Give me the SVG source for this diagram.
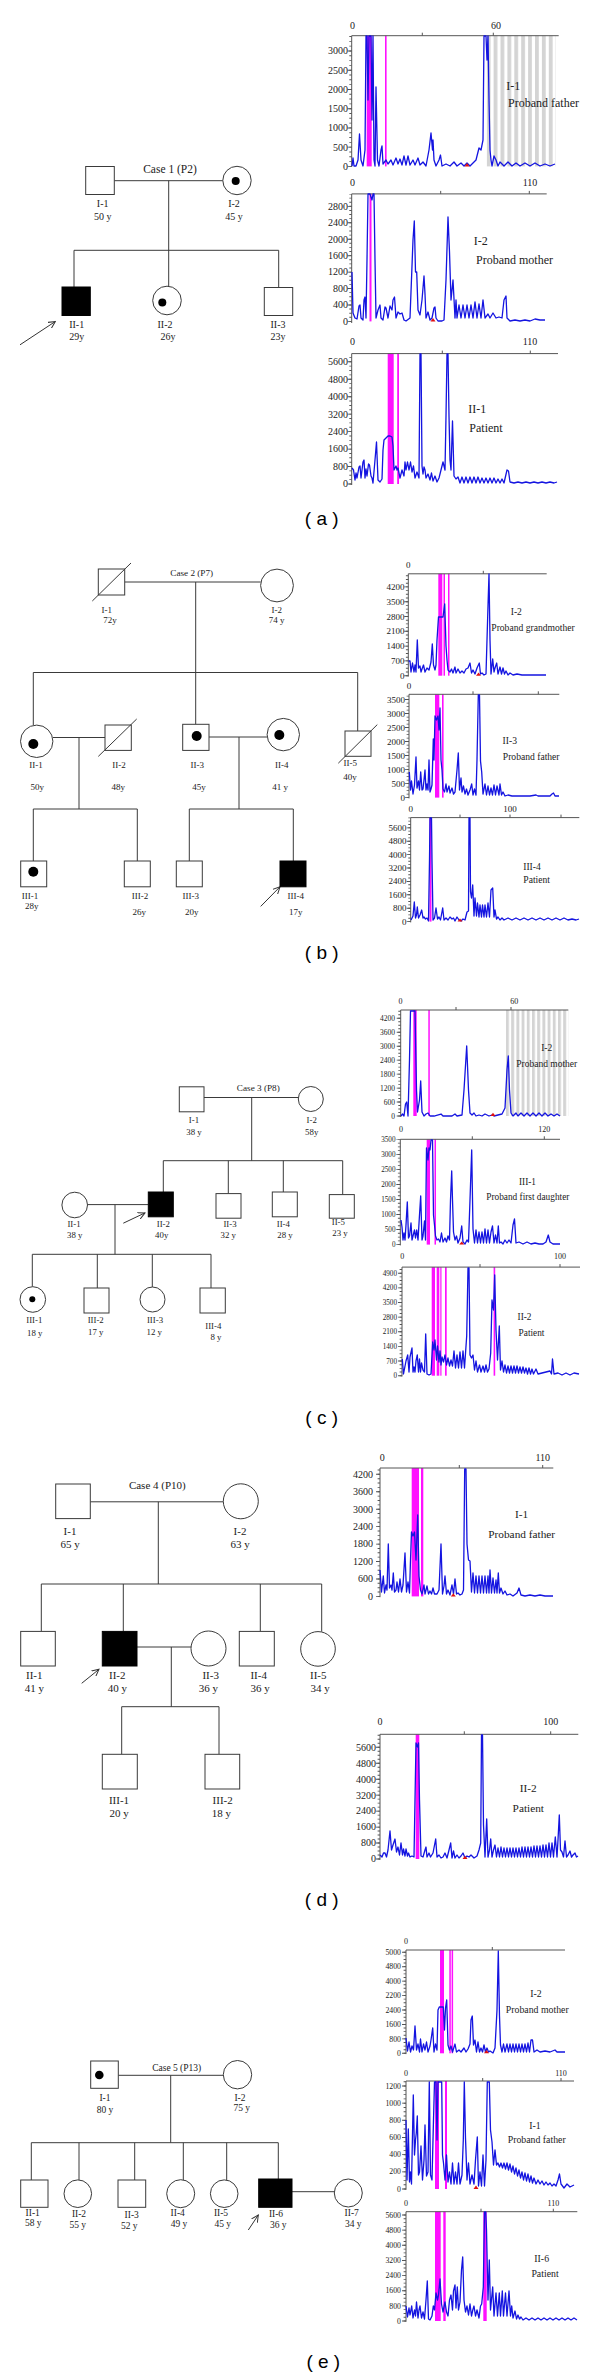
<svg xmlns="http://www.w3.org/2000/svg" width="600" height="2377" viewBox="0 0 600 2377">
<style>
.ln{stroke:#3a3a3a;stroke-width:1;fill:none}
.sym{stroke:#3a3a3a;stroke-width:1;fill:#fff}
.aff{fill:#000;stroke:#000;stroke-width:1}
.dot{fill:#000}
.t{font-family:"Liberation Serif",serif;fill:#222;text-anchor:middle}
.yl{font-family:"Liberation Serif",serif;fill:#222;text-anchor:end}
.ax{stroke:#555;stroke-width:1;fill:none}
.tr{stroke:#1414e0;stroke-width:1.3;fill:none;stroke-linejoin:round}
.mg{fill:#ff10ff}
.red{fill:#e01010}
.pl{font-family:"Liberation Sans",Arial,sans-serif;font-size:19px;fill:#000;text-anchor:middle}
.arrow{stroke:#333;stroke-width:1;fill:none;marker-end:url(#arr)}
</style>
<defs>
<marker id="arr" markerWidth="8" markerHeight="8" refX="7" refY="4" orient="auto" markerUnits="userSpaceOnUse"><path d="M0,0.5 L7,4 L0,7.5" fill="none" stroke="#333" stroke-width="1"/></marker>
<pattern id="gs1" patternUnits="userSpaceOnUse" x="486.7" y="0" width="6.9" height="10"><rect width="3.8" height="10" fill="#d4d4d4"/></pattern>
<pattern id="gs2" patternUnits="userSpaceOnUse" x="506" y="0" width="5.2" height="10"><rect width="2.9" height="10" fill="#d4d4d4"/></pattern>
</defs>
<rect width="600" height="2377" fill="#fff"/>

<!-- ===================== PANEL A ===================== -->
<g id="panel-a">
<g id="a-connectors">
<line class="ln" x1="114.3" y1="180.7" x2="222.9" y2="180.7"/>
<line class="ln" x1="168.7" y1="180.7" x2="168.7" y2="286.2"/>
<line class="ln" x1="74" y1="250.3" x2="278.7" y2="250.3"/>
<line class="ln" x1="74" y1="250.3" x2="74" y2="287"/>
<line class="ln" x1="278.7" y1="250.3" x2="278.7" y2="287.5"/>
<line class="arrow" x1="20" y1="344.8" x2="55.3" y2="321.5"/>
</g>
<text class="t" x="170" y="172.8" font-size="11.5">Case 1 (P2)</text>
<g id="a-I-1"><rect class="sym" x="85.7" y="166.5" width="28.6" height="28"/><text class="t" x="102.7" y="207.2" font-size="10">I-1</text><text class="t" x="102.7" y="219.5" font-size="10">50 y</text></g>
<g id="a-I-2"><circle class="sym" cx="237" cy="180.5" r="14.2"/><circle class="dot" cx="235.7" cy="181" r="4"/><text class="t" x="234" y="207.2" font-size="10">I-2</text><text class="t" x="234" y="219.5" font-size="10">45 y</text></g>
<g id="a-II-1"><rect class="aff" x="62" y="287" width="28.3" height="28.5"/><text class="t" x="76.7" y="328.2" font-size="10">II-1</text><text class="t" x="76.7" y="340" font-size="10">29y</text></g>
<g id="a-II-2"><circle class="sym" cx="167" cy="300.5" r="14.3"/><circle class="dot" cx="162.3" cy="302.5" r="4"/><text class="t" x="165" y="328.2" font-size="10">II-2</text><text class="t" x="168" y="340" font-size="10">26y</text></g>
<g id="a-II-3"><rect class="sym" x="264.3" y="287.5" width="28.4" height="28"/><text class="t" x="278" y="328.2" font-size="10">II-3</text><text class="t" x="278" y="340" font-size="10">23y</text></g>

<g id="chart-a1">
<rect x="486.7" y="35.7" width="69.3" height="130.7" fill="url(#gs1)"/>
<rect class="mg" x="366.7" y="35.7" width="5" height="130.7"/>
<rect class="mg" x="385" y="35.7" width="1.6" height="130.7"/>
<path class="ax" d="M351.7,35.7 H558.7 M351.7,35.7 V167 M422.3,35.7 v-3 M493.3,35.7 v-3"/>
<line x1="350.5" y1="166.85" x2="350.5" y2="35.7" stroke="#555" stroke-width="2.4" stroke-dasharray="0.9 3.91"/>
<line x1="349.7" y1="166.85" x2="349.7" y2="35.7" stroke="#555" stroke-width="4" stroke-dasharray="0.9 18.33"/>
<g class="yl" font-size="10"><text x="348" y="169.7">0</text><text x="348" y="150.5">500</text><text x="348" y="131.3">1000</text><text x="348" y="112">1500</text><text x="348" y="92.8">2000</text><text x="348" y="73.6">2500</text><text x="348" y="54.3">3000</text></g>
<text class="t" x="352.5" y="29.3" font-size="10">0</text><text class="t" x="496" y="29.3" font-size="10">60</text>
<path class="tr" d="M352,166 L353,158 L354,166 L356,166 L358,160 L359.5,134 L361,160 L363,166 L365,150 L366,36 L367,36 L368,100 L369,36 L371,36 L372,120 L373,36 L374,160 L375,166 L376,87 L377.5,160 L379,166 L381,150 L382,146 L383,164 L386,160 L388,164 L391,160 L393,165 L396,158 L398,164 L400,159 L402,165 L404,156 L406,165 L408,156 L410,165 L413,160 L415,165 L418,158 L420,165 L423,162 L426,166 L429,150 L431,133 L432.5,150 L433,140 L434,160 L436,166 L439,160 L440.5,155 L442,166 L446,164 L450,166 L454,162 L457,166 L461,163 L464,166 L467,163 L470,166 L476,160 L479,148 L481,150 L483,140 L484,36 L486,36 L487,60 L488,36 L489,100 L490,150 L491,160 L492,166 L494,156 L496,160 L498,166 L500,162 L504,166 L508,162 L512,166 L516,163 L520,166 L525,163 L530,166 L535,163 L540,166 L545,164 L550,166 L555,164"/>
<path class="red" d="M464.5,166.4 L467,162.9 L469.5,166.4 Z"/>
<text class="t" x="513.3" y="90.4" font-size="12">I-1</text><text class="t" x="543.5" y="107" font-size="12">Proband father</text>
</g>

<g id="chart-a2">
<rect class="mg" x="369.5" y="193.9" width="2" height="127.5"/>
<path class="ax" d="M351.7,193.9 H546.7 M351.7,193.9 V323 M440.7,193.9 v-3 M529.3,193.9 v-3"/>
<line x1="350.5" y1="321.85" x2="350.5" y2="193.9" stroke="#555" stroke-width="2.4" stroke-dasharray="0.9 3.21"/>
<line x1="349.7" y1="321.85" x2="349.7" y2="193.9" stroke="#555" stroke-width="4" stroke-dasharray="0.9 15.53"/>
<g class="yl" font-size="10"><text x="348" y="324.7">0</text><text x="348" y="308.3">400</text><text x="348" y="291.8">800</text><text x="348" y="275.4">1200</text><text x="348" y="259">1600</text><text x="348" y="242.6">2000</text><text x="348" y="226.1">2400</text><text x="348" y="209.7">2800</text></g>
<text class="t" x="352.5" y="185.7" font-size="10">0</text><text class="t" x="530" y="185.7" font-size="10">110</text>
<path class="tr" d="M352,272 L353,313 L355,318 L357,319 L359,306 L360,305 L361,318 L363,320 L364,300 L365,297 L366,318 L367,260 L368,194 L370,194 L372,200 L373,194 L374,194 L375,260 L376,318 L378,310 L380,305 L381,318 L383,320 L385,307 L386,308 L388,318 L390,306 L392,310 L393,300 L394.5,297 L396,318 L398,312 L400,314 L402,313 L404,320 L406,321 L410,318 L413,240 L414.3,221 L415.5,272 L416.7,272 L418,310 L420,315 L422,300 L424,276 L425,294 L426,318 L428,312 L430,320 L432,318 L434,308 L435,307 L436,318 L438,321 L442,321 L444,320 L446,280 L448,217 L449.5,252 L451,300 L453,280 L455,318 L456,300 L457,318 L459,305 L461,318 L463,305 L465,318 L467,305 L469,318 L471,305 L473,318 L475,302 L477,318 L479,304 L481,318 L483,300 L485,318 L488,314 L490,318 L493,313 L496,318 L499,317 L502,318 L504,300 L506,296 L507,318 L510,321 L515,320 L520,321 L525,320 L530,321 L535,319 L540,320 L545,320"/>
<path class="red" d="M430.5,321.4 L433,317.9 L435.5,321.4 Z"/>
<text class="t" x="480.8" y="244.6" font-size="12">I-2</text><text class="t" x="514.5" y="264.3" font-size="12">Proband mother</text>
</g>

<g id="chart-a3">
<rect class="mg" x="387.7" y="353.6" width="6" height="130.4"/>
<rect class="mg" x="397.2" y="353.6" width="1.8" height="130.4"/>
<path class="ax" d="M351.7,353.6 H558 M351.7,353.6 V485 M442.3,353.6 v-3 M530.3,353.6 v-3"/>
<line x1="350.5" y1="484.45" x2="350.5" y2="353.6" stroke="#555" stroke-width="2.4" stroke-dasharray="0.9 3.465"/>
<line x1="349.7" y1="484.45" x2="349.7" y2="353.6" stroke="#555" stroke-width="4" stroke-dasharray="0.9 16.56"/>
<g class="yl" font-size="10"><text x="348" y="487.3">0</text><text x="348" y="469.8">800</text><text x="348" y="452.4">1600</text><text x="348" y="434.9">2400</text><text x="348" y="417.5">3200</text><text x="348" y="400">4000</text><text x="348" y="382.5">4800</text><text x="348" y="365.1">5600</text></g>
<text class="t" x="352.5" y="344.6" font-size="10">0</text><text class="t" x="530" y="344.6" font-size="10">110</text>
<path class="tr" d="M352,468 L353.5,470 L355,480 L356,473 L357,478 L359,467 L360,466 L361,478 L363,462 L364,460 L365,478 L366,469 L367,476 L368.5,464 L369.5,465 L371,476 L372,478 L373,483 L375,460 L376.5,442 L378,480 L380,482 L382,479 L383,450 L384,440 L386,438 L388,436 L390,436 L392,437 L393,446 L394,470 L396,466 L397,470 L398,468 L400,478 L402,470 L404,476 L405,462 L406,470 L407.5,462 L409,470 L410.5,462 L412,472 L413.5,466 L415,478 L417,472 L419,478 L420,354 L421,354 L422,466 L423,474 L424,467 L425,470 L426,478 L428,474 L430,480 L431.5,473 L433,481 L435,476 L437,482 L439,478 L441,470 L443,462 L445,470 L446,416 L447,354 L448,354 L449,416 L450,460 L451,470 L452.5,421 L454,476 L456,479 L458,477 L460,483 L462,477 L464,483 L466,477 L468,483 L470,477 L472,483 L474,477 L476,483 L478,477 L480,483 L482,478 L484,483 L486,478 L488,483 L490,478 L492,483 L494,478 L496,483 L498,479 L500,483 L502,479 L504,483 L507,470 L508.5,471 L510,482 L514,483 L518,482 L522,483 L526,482 L530,483 L534,482 L538,483 L542,482 L546,483 L550,482 L554,483 L557,482"/>
<text class="t" x="477.2" y="412.5" font-size="12">II-1</text><text class="t" x="486" y="432" font-size="12">Patient</text>
</g>
<text class="pl" x="321.7" y="525">( a )</text>
</g>

<!-- ===================== PANEL B ===================== -->
<g id="panel-b">
<g id="b-connectors">
<line class="ln" x1="124.7" y1="582" x2="260.7" y2="582"/>
<line class="ln" x1="195.7" y1="582" x2="195.7" y2="724.3"/>
<line class="ln" x1="33.3" y1="672.5" x2="357.7" y2="672.5"/>
<line class="ln" x1="33.3" y1="672.5" x2="33.3" y2="725"/>
<line class="ln" x1="52.9" y1="737.5" x2="105" y2="737.5"/>
<line class="ln" x1="79" y1="737.5" x2="79" y2="809"/>
<line class="ln" x1="33.3" y1="809" x2="137.3" y2="809"/>
<line class="ln" x1="209" y1="737" x2="267.1" y2="737"/>
<line class="ln" x1="239" y1="737" x2="239" y2="809"/>
<line class="ln" x1="189.3" y1="809" x2="293.3" y2="809"/>
<line class="ln" x1="357.7" y1="672.5" x2="357.7" y2="731"/>
<line class="ln" x1="33.3" y1="809" x2="33.3" y2="861"/>
<line class="ln" x1="137.3" y1="809" x2="137.3" y2="861"/>
<line class="ln" x1="189.3" y1="809" x2="189.3" y2="861"/>
<line class="ln" x1="293.3" y1="809" x2="293.3" y2="861"/>
<line class="arrow" x1="260.7" y1="906.4" x2="280" y2="886.8"/>
</g>
<text class="t" x="191.7" y="576" font-size="9.2">Case 2 (P7)</text>
<g id="b-I-1"><rect class="sym" x="98.3" y="569" width="26.4" height="26"/><line class="ln" x1="92.3" y1="601" x2="131" y2="563"/><text class="t" x="106.7" y="612.5" font-size="9">I-1</text><text class="t" x="110" y="623.2" font-size="9">72y</text></g>
<g id="b-I-2"><circle class="sym" cx="277" cy="585.5" r="16.4"/><text class="t" x="276.7" y="612.5" font-size="9">I-2</text><text class="t" x="276.7" y="623.2" font-size="9">74 y</text></g>
<g id="b-II-1"><circle class="sym" cx="36.7" cy="741.3" r="16.2"/><circle class="dot" cx="33.3" cy="744" r="5"/><text class="t" x="36" y="768.2" font-size="9">II-1</text><text class="t" x="37.3" y="789.6" font-size="9">50y</text></g>
<g id="b-II-2"><rect class="sym" x="105" y="725" width="26.3" height="25.4"/><line class="ln" x1="98.3" y1="756.4" x2="136.7" y2="719"/><text class="t" x="119" y="768.2" font-size="9">II-2</text><text class="t" x="118.3" y="789.6" font-size="9">48y</text></g>
<g id="b-II-3"><rect class="sym" x="182.7" y="724.3" width="26.3" height="26.1"/><circle class="dot" cx="196.7" cy="736" r="5"/><text class="t" x="197.3" y="768.2" font-size="9">II-3</text><text class="t" x="199" y="789.6" font-size="9">45y</text></g>
<g id="b-II-4"><circle class="sym" cx="283.3" cy="734.6" r="16.2"/><circle class="dot" cx="279.3" cy="735" r="5"/><text class="t" x="281.7" y="768.2" font-size="9">II-4</text><text class="t" x="280" y="789.6" font-size="9">41 y</text></g>
<g id="b-II-5"><rect class="sym" x="345" y="731" width="26" height="25.3"/><line class="ln" x1="338.3" y1="763.2" x2="377.3" y2="724.6"/><text class="t" x="350.3" y="766" font-size="9">II-5</text><text class="t" x="350" y="780.4" font-size="9">40y</text></g>
<g id="b-III-1"><rect class="sym" x="20.7" y="861" width="26" height="25.8"/><circle class="dot" cx="33.3" cy="871.8" r="5"/><text class="t" x="30" y="899.3" font-size="9">III-1</text><text class="t" x="31.7" y="909.3" font-size="9">28y</text></g>
<g id="b-III-2"><rect class="sym" x="124.3" y="861" width="26" height="25.8"/><text class="t" x="140" y="899.3" font-size="9">III-2</text><text class="t" x="139.3" y="914.6" font-size="9">26y</text></g>
<g id="b-III-3"><rect class="sym" x="176.3" y="861" width="26" height="25.8"/><text class="t" x="190.7" y="899.3" font-size="9">III-3</text><text class="t" x="191.7" y="914.6" font-size="9">20y</text></g>
<g id="b-III-4"><rect class="aff" x="280" y="861" width="26" height="25.8"/><text class="t" x="295.7" y="899.3" font-size="9">III-4</text><text class="t" x="295.7" y="914.6" font-size="9">17y</text></g>

<g id="chart-b1">
<rect class="mg" x="438.3" y="573.8" width="4" height="101.9"/>
<rect class="mg" x="443.5" y="573.8" width="1.5" height="101.9"/>
<rect class="mg" x="448" y="573.8" width="1.5" height="101.9"/>
<path class="ax" d="M408.3,573.8 H546.7 M408.3,573.8 V676.5 M483.3,573.8 v-3"/>
<line x1="407.1" y1="676.15" x2="407.1" y2="573.8" stroke="#555" stroke-width="2.4" stroke-dasharray="0.9 2.8"/>
<line x1="406.3" y1="676.15" x2="406.3" y2="573.8" stroke="#555" stroke-width="4" stroke-dasharray="0.9 13.9"/>
<g class="yl" font-size="9"><text x="404.5" y="678.7">0</text><text x="404.5" y="663.9">700</text><text x="404.5" y="649.1">1400</text><text x="404.5" y="634.3">2100</text><text x="404.5" y="619.5">2800</text><text x="404.5" y="604.7">3500</text><text x="404.5" y="589.9">4200</text></g>
<text class="t" x="408.3" y="567.6" font-size="9">0</text>
<path class="tr" d="M408.5,661 L410,661 L411,672 L412.5,663 L414,672 L415,665 L416,672 L417.3,640 L418.5,668 L420,666 L421,672 L422,669 L423.5,665 L425,672 L427,668 L429,670 L431,662 L432.3,644 L433.5,665 L435,670 L436,665 L437,640 L438.5,617 L440,617 L442,617 L443,617 L444.7,604 L446,646 L447,660 L448,670 L450,672 L451.5,669 L453,673 L455,667 L456,673 L458,669 L460,673 L462,671 L464,673 L466,669 L468,668 L470,663 L471.5,673 L473,670 L475,674 L477,668 L479.3,663 L480.5,674 L482,673 L484,675 L486,674 L488,606 L489,574 L490,640 L491,674 L492.7,659 L494,672 L495,668 L496.7,663 L498,674 L500,667 L501.5,674 L503,668 L504.5,674 L506,671 L508,675 L510,673 L513,675 L517,674 L522,675 L530,675 L546,675"/>
<path class="red" d="M476,675.7 L478.5,672.5 L481,675.7 Z"/>
<text class="t" x="516.3" y="615" font-size="9.6">I-2</text><text class="t" x="533" y="631" font-size="9.6">Proband grandmother</text>
</g>

<g id="chart-b2">
<rect class="mg" x="435" y="694.3" width="4.3" height="103.3"/>
<rect class="mg" x="442" y="694.3" width="1.6" height="103.3"/>
<path class="ax" d="M409,694.3 H559.3 M409,694.3 V798.4 M473,694.3 v-3 M538.3,694.3 v-3"/>
<line x1="407.8" y1="798.05" x2="407.8" y2="694.3" stroke="#555" stroke-width="2.4" stroke-dasharray="0.9 2.6"/>
<line x1="407" y1="798.05" x2="407" y2="694.3" stroke="#555" stroke-width="4" stroke-dasharray="0.9 13.11"/>
<g class="yl" font-size="9"><text x="405" y="800.6">0</text><text x="405" y="786.6">500</text><text x="405" y="772.6">1000</text><text x="405" y="758.6">1500</text><text x="405" y="744.6">2000</text><text x="405" y="730.6">2500</text><text x="405" y="716.5">3000</text><text x="405" y="702.5">3500</text></g>
<text class="t" x="409" y="689.1" font-size="9">0</text>
<path class="tr" d="M409.3,772 L410.5,790 L411.5,781 L413,794 L414.5,785 L416,757 L417,788 L418.5,781 L419.5,790 L420.7,772 L422,790 L423,789 L424,780 L425,770 L426,790 L427,784 L428,790 L429,760 L430,792 L431,789 L432,785 L433.3,739 L434,760 L435,716 L436.5,720 L438,716 L439,730 L440,708 L441,760 L442,770 L443,789 L444.5,792 L446,784 L447,792 L449,786 L450,793 L452,788 L453.5,794 L455,792 L457,770 L458.3,753 L459.5,790 L461,778 L462,792 L463.5,786 L465,794 L466.5,789 L468,795 L470,790 L471.7,784 L473,795 L474.5,789 L476,795 L477,760 L478.3,695 L479.5,695 L480.5,761 L481.7,772 L483,794 L485,784 L486.5,795 L488,786 L489.5,795 L491,788 L492.5,795 L494,785 L495.5,795 L497,786 L499,795 L500,784 L501.5,795 L503,792 L505,796 L508,795 L512,796 L520,796 L530,796 L536,795 L538,796 L550,796 L552,794 L553.5,793 L555,796 L559,796"/>
<text class="t" x="509.8" y="744.2" font-size="9.6">II-3</text><text class="t" x="531.2" y="759.7" font-size="9.6">Proband father</text>
</g>

<g id="chart-b3">
<rect class="mg" x="429.5" y="817.6" width="2" height="104"/>
<path class="ax" d="M410.7,817.6 H579.3 M410.7,817.6 V922.4 M460,817.6 v-3 M510,817.6 v-3 M561,817.6 v-3"/>
<line x1="409.5" y1="922.05" x2="409.5" y2="817.6" stroke="#555" stroke-width="2.4" stroke-dasharray="0.9 2.45"/>
<line x1="408.7" y1="922.05" x2="408.7" y2="817.6" stroke="#555" stroke-width="4" stroke-dasharray="0.9 12.49"/>
<g class="yl" font-size="9"><text x="406.5" y="924.6">0</text><text x="406.5" y="911.2">800</text><text x="406.5" y="897.8">1600</text><text x="406.5" y="884.4">2400</text><text x="406.5" y="871">3200</text><text x="406.5" y="857.7">4000</text><text x="406.5" y="844.3">4800</text><text x="406.5" y="830.9">5600</text></g>
<text class="t" x="410.7" y="812.4" font-size="9">0</text><text class="t" x="510" y="812.4" font-size="9">100</text>
<path class="tr" d="M411,920 L413,916 L414.3,902 L415.5,918 L416.5,915 L417.3,907 L418.5,918 L420,915 L421.7,910 L423,918 L424,917 L425.5,919 L427,918 L428.5,921 L429.5,860 L430,818 L431.5,818 L432,860 L433,920 L434.5,918 L436,908 L437.5,919 L439,917 L440.5,920 L442.7,908 L444,920 L446,918 L448,920 L450,917 L452,919 L453.5,918 L455,921 L457,917 L459,920 L461,921 L463,919 L465,920 L467,912 L468.5,911 L469,818 L470,818 L470.5,892 L471.5,898 L472.7,885 L474,916 L475,898 L476.5,916 L477.5,903 L479,917 L480,905 L481.5,917 L482.5,905 L484,917 L485,905 L486.5,917 L488,903 L489.5,917 L491,890 L492.7,888 L494,917 L495,910 L496.5,919 L498,917 L500,920 L502,918 L504,920 L508,918 L512,920 L516,918 L520,920 L524,918 L528,920 L532,918 L536,920 L540,918 L544,920 L548,918 L552,920 L556,918 L560,920 L564,918 L568,920 L572,919 L576,920 L579,919"/>
<path class="red" d="M457.5,921.6 L460,918.4 L462.5,921.6 Z"/>
<text class="t" x="532" y="869.9" font-size="9.6">III-4</text><text class="t" x="536.7" y="883" font-size="9.6">Patient</text>
</g>
<text class="pl" x="321.7" y="958.5">( b )</text>
</g>

<!-- ===================== PANEL C ===================== -->
<g id="panel-c">
<g id="c-connectors">
<line class="ln" x1="204" y1="1097.5" x2="298.3" y2="1097.5"/>
<line class="ln" x1="251.7" y1="1097.5" x2="251.7" y2="1160.7"/>
<line class="ln" x1="163.3" y1="1160.7" x2="342.7" y2="1160.7"/>
<line class="ln" x1="163.3" y1="1160.7" x2="163.3" y2="1192"/>
<line class="ln" x1="87.5" y1="1204.6" x2="148.3" y2="1204.6"/>
<line class="ln" x1="115" y1="1204.6" x2="115" y2="1254.3"/>
<line class="ln" x1="32.3" y1="1254.3" x2="211" y2="1254.3"/>
<line class="ln" x1="228.3" y1="1160.7" x2="228.3" y2="1193.6"/>
<line class="ln" x1="283.3" y1="1160.7" x2="283.3" y2="1192"/>
<line class="ln" x1="342.7" y1="1160.7" x2="342.7" y2="1194.6"/>
<line class="ln" x1="32.3" y1="1254.3" x2="32.3" y2="1286.7"/>
<line class="ln" x1="97.3" y1="1254.3" x2="97.3" y2="1288"/>
<line class="ln" x1="152.3" y1="1254.3" x2="152.3" y2="1287"/>
<line class="ln" x1="211" y1="1254.3" x2="211" y2="1288"/>
<line class="arrow" x1="123.3" y1="1223.2" x2="145" y2="1212.9"/>
</g>
<text class="t" x="258.3" y="1091" font-size="9.2">Case 3 (P8)</text>
<g id="c-I-1"><rect class="sym" x="179.3" y="1086.8" width="24.7" height="25"/><text class="t" x="194" y="1123.2" font-size="8.8">I-1</text><text class="t" x="194" y="1134.6" font-size="8.8">38 y</text></g>
<g id="c-I-2"><circle class="sym" cx="310.8" cy="1099" r="12.5"/><text class="t" x="311.7" y="1123.2" font-size="8.8">I-2</text><text class="t" x="311.7" y="1134.6" font-size="8.8">58y</text></g>
<g id="c-II-1"><circle class="sym" cx="74.7" cy="1205" r="12.8"/><text class="t" x="74" y="1226.8" font-size="8.8">II-1</text><text class="t" x="74.7" y="1237.5" font-size="8.8">38 y</text></g>
<g id="c-II-2"><rect class="aff" x="148.3" y="1192" width="25" height="24.8"/><text class="t" x="163.3" y="1226.8" font-size="8.8">II-2</text><text class="t" x="161.7" y="1237.5" font-size="8.8">40y</text></g>
<g id="c-II-3"><rect class="sym" x="216" y="1193.6" width="25" height="24.6"/><text class="t" x="230" y="1226.8" font-size="8.8">II-3</text><text class="t" x="228.3" y="1237.5" font-size="8.8">32 y</text></g>
<g id="c-II-4"><rect class="sym" x="272.3" y="1192" width="25" height="24.8"/><text class="t" x="283.3" y="1226.8" font-size="8.8">II-4</text><text class="t" x="285" y="1237.5" font-size="8.8">28 y</text></g>
<g id="c-II-5"><rect class="sym" x="329.3" y="1194.6" width="25" height="23.6"/><text class="t" x="338.3" y="1225" font-size="8.8">II-5</text><text class="t" x="340" y="1236" font-size="8.8">23 y</text></g>
<g id="c-III-1"><circle class="sym" cx="32.8" cy="1299.5" r="12.8"/><circle class="dot" cx="32.3" cy="1299.3" r="3"/><text class="t" x="34.3" y="1323.2" font-size="8.8">III-1</text><text class="t" x="34.7" y="1335.7" font-size="8.8">18 y</text></g>
<g id="c-III-2"><rect class="sym" x="84" y="1288" width="25" height="25"/><text class="t" x="95.7" y="1323.2" font-size="8.8">III-2</text><text class="t" x="95.7" y="1334.5" font-size="8.8">17 y</text></g>
<g id="c-III-3"><circle class="sym" cx="152.5" cy="1299.5" r="12.5"/><text class="t" x="155" y="1323.2" font-size="8.8">III-3</text><text class="t" x="154.3" y="1334.5" font-size="8.8">12 y</text></g>
<g id="c-III-4"><rect class="sym" x="200" y="1288" width="25.3" height="25"/><text class="t" x="213.3" y="1328.6" font-size="8.8">III-4</text><text class="t" x="216" y="1340" font-size="8.8">8 y</text></g>

<g id="chart-c1">
<rect x="506" y="1010" width="62.3" height="106" fill="url(#gs2)"/>
<rect class="mg" x="413.3" y="1010" width="3.4" height="106"/>
<rect class="mg" x="428.3" y="1010" width="1.5" height="106"/>
<path class="ax" d="M400.7,1010 H568.3 M400.7,1010 V1117 M456,1010 v-3 M511,1010 v-3"/>
<line x1="399.5" y1="1116.45" x2="399.5" y2="1010" stroke="#555" stroke-width="2.4" stroke-dasharray="0.9 2.59"/>
<line x1="398.7" y1="1116.45" x2="398.7" y2="1010" stroke="#555" stroke-width="4" stroke-dasharray="0.9 13.06"/>
<g class="yl" font-size="7.5"><text x="395" y="1118.5">0</text><text x="395" y="1104.5">600</text><text x="395" y="1090.6">1200</text><text x="395" y="1076.6">1800</text><text x="395" y="1062.7">2400</text><text x="395" y="1048.7">3000</text><text x="395" y="1034.7">3600</text><text x="395" y="1020.8">4200</text></g>
<text class="t" x="400.5" y="1003.5" font-size="8">0</text><text class="t" x="514.3" y="1003.5" font-size="8">60</text>
<path class="tr" d="M401,1116 L402.5,1114 L404,1116 L405.5,1104 L406.7,1102 L408,1116 L409.5,1060 L410.5,1011 L413,1011 L415,1011 L416.5,1090 L417.5,1112 L419.5,1100 L420.7,1081 L422,1112 L424,1116 L426,1114 L428,1113 L430,1116 L434,1116 L441,1114 L443,1116 L452,1116 L455,1114 L457,1116 L462,1115 L464,1090 L466.7,1046 L468.5,1090 L470,1113 L472,1115 L474,1113 L476,1116 L479,1115 L482,1116 L485,1114 L489,1116 L492,1115 L494,1116 L498,1115 L502,1114 L505,1108 L507,1070 L508.3,1056 L509.5,1090 L511,1113 L513,1116 L516,1113 L518,1116 L521,1113 L524,1116 L527,1113 L530,1116 L533,1113 L536,1116 L539,1113 L542,1116 L545,1113 L548,1116 L551,1114 L554,1116 L557,1114 L560,1116"/>
<path class="red" d="M490.5,1116 L493,1112.8 L495.5,1116 Z"/>
<text class="t" x="546.7" y="1050.7" font-size="9.5">I-2</text><text class="t" x="546.7" y="1066.9" font-size="9.5">Proband mother</text>
</g>

<g id="chart-c2">
<rect class="mg" x="426.7" y="1139.3" width="3.3" height="105.3"/>
<rect class="mg" x="434.5" y="1139.3" width="1.5" height="105.3"/>
<path class="ax" d="M400.3,1139.3 H560 M400.3,1139.3 V1245.4 M472.3,1139.3 v-3 M544.3,1139.3 v-3"/>
<line x1="399.1" y1="1245.05" x2="399.1" y2="1139.3" stroke="#555" stroke-width="2.4" stroke-dasharray="0.9 2.86"/>
<line x1="398.3" y1="1245.05" x2="398.3" y2="1139.3" stroke="#555" stroke-width="4" stroke-dasharray="0.9 14.14"/>
<g class="yl" font-size="7.2"><text x="395.5" y="1247">0</text><text x="395.5" y="1232">500</text><text x="395.5" y="1216.9">1000</text><text x="395.5" y="1201.9">1500</text><text x="395.5" y="1186.8">2000</text><text x="395.5" y="1171.8">2500</text><text x="395.5" y="1156.8">3000</text><text x="395.5" y="1141.7">3500</text></g>
<text class="t" x="401" y="1132.1" font-size="8">0</text><text class="t" x="544.3" y="1132.1" font-size="8">120</text>
<path class="tr" d="M401,1220 L402,1227 L403,1240 L404,1233 L405,1240 L406,1225 L407.3,1202 L408.5,1238 L409.5,1236 L411,1223 L412,1240 L413,1236 L414.5,1230 L415.5,1238 L416.7,1230 L418,1240 L419.5,1215 L420.7,1196 L422,1240 L423,1236 L424.5,1221 L425.5,1240 L426.5,1148 L428,1160 L429,1148 L430,1150 L431,1140 L432.5,1140 L433.5,1215 L434.5,1225 L435.5,1236 L437,1240 L438.5,1239 L440,1242 L441.5,1233 L443,1242 L445,1238 L446.5,1242 L448,1236 L449.5,1240 L450.5,1200 L451.7,1171 L452.5,1200 L453.5,1232 L455,1240 L456.5,1236 L458,1243 L460,1238 L461.7,1226 L463,1242 L465,1244 L467,1240 L468.5,1242 L470,1200 L471.7,1150 L473,1229 L474.5,1243 L476,1230 L477.5,1243 L479,1232 L480.5,1243 L482,1232 L483.5,1243 L485,1229 L486.5,1243 L488,1230 L489.5,1243 L491,1232 L492.5,1226 L494,1243 L495.5,1235 L497,1243 L498.3,1226 L499.5,1243 L501,1242 L503,1244 L505,1240 L507,1243 L509,1240 L511,1243 L513,1225 L514.5,1219 L516,1243 L519,1242 L523,1244 L527,1242 L531,1244 L535,1243 L539,1244 L543,1244 L546,1242 L548.3,1235 L550,1242 L553,1244 L560,1244"/>
<path class="red" d="M459.2,1244.6 L461.7,1241.4 L464.2,1244.6 Z"/>
<text class="t" x="527.5" y="1184.6" font-size="9.3">III-1</text><text class="t" x="527.8" y="1200" font-size="9.3">Proband first daughter</text>
</g>

<g id="chart-c3">
<rect class="mg" x="431.7" y="1267.1" width="3.3" height="108.6"/>
<rect class="mg" x="436.7" y="1267.1" width="2.6" height="108.6"/>
<rect class="mg" x="440.3" y="1267.1" width="1.2" height="108.6"/>
<rect class="mg" x="445" y="1267.1" width="1.7" height="108.6"/>
<rect class="mg" x="493.6" y="1267.1" width="1.6" height="108.6"/>
<path class="ax" d="M402,1267.1 H580 M402,1267.1 V1376.5 M480,1267.1 v-3 M560,1267.1 v-3"/>
<line x1="400.8" y1="1376.15" x2="400.8" y2="1267.1" stroke="#555" stroke-width="2.4" stroke-dasharray="0.9 2.76"/>
<line x1="400" y1="1376.15" x2="400" y2="1267.1" stroke="#555" stroke-width="4" stroke-dasharray="0.9 13.74"/>
<g class="yl" font-size="7.2"><text x="397" y="1378.1">0</text><text x="397" y="1363.5">700</text><text x="397" y="1348.8">1400</text><text x="397" y="1334.2">2100</text><text x="397" y="1319.5">2800</text><text x="397" y="1304.9">3500</text><text x="397" y="1290.3">4200</text><text x="397" y="1275.6">4900</text></g>
<text class="t" x="402.3" y="1259" font-size="8">0</text><text class="t" x="560" y="1259" font-size="8">100</text>
<path class="tr" d="M402.3,1359 L403.5,1374 L406,1361 L407.7,1355 L409,1372 L410,1357 L412,1348 L413,1372 L414,1367 L415,1372 L416,1361 L417.3,1355 L418.5,1372 L419.5,1359 L420.5,1372 L421.5,1363 L423,1370 L424.5,1372 L425.7,1334 L427,1374 L429,1375 L431,1374 L432.7,1342 L434,1350 L435,1340 L436.5,1360 L437.5,1346 L439,1362 L440,1351 L441,1365 L442,1357 L443.5,1362 L445,1355 L446.5,1365 L448,1358 L449.5,1366 L451,1360 L452.5,1366 L454,1351 L455.5,1368 L457,1355 L458.5,1368 L460,1352 L461.5,1368 L463,1351 L464.5,1368 L466.7,1336 L468,1268 L469,1268 L470,1355 L471.5,1358 L473,1355 L474.5,1370 L476,1361 L477.5,1372 L479.5,1365 L481,1372 L483,1366 L484.5,1372 L486,1365 L487.5,1372 L489,1369 L490.7,1353 L492,1300 L493.5,1310 L494.7,1275 L496,1330 L497.5,1360 L499.3,1326 L500.5,1370 L502,1361 L503.5,1372 L505,1365 L506.5,1373 L508,1366 L509.5,1373 L511,1366 L512.5,1373 L514,1366 L515.5,1373 L517,1366 L518.5,1373 L520,1367 L521.5,1373 L523,1367 L524.5,1373 L526,1368 L527.5,1374 L529,1368 L530.5,1374 L532,1369 L533.5,1374 L536,1369 L538,1374 L550,1371 L551.5,1374 L552.5,1359 L554,1374 L558,1373 L562,1375 L566,1373 L570,1375 L574,1373 L579,1374"/>
<text class="t" x="524.5" y="1319.6" font-size="9.3">II-2</text><text class="t" x="531.5" y="1335.7" font-size="9.3">Patient</text>
</g>
<text class="pl" x="321.7" y="1423.5">( c )</text>
</g>

<!-- ===================== PANEL D ===================== -->
<g id="panel-d">
<g id="d-connectors">
<line class="ln" x1="90.3" y1="1501.8" x2="223.3" y2="1501.8"/>
<line class="ln" x1="158.3" y1="1501.8" x2="158.3" y2="1584"/>
<line class="ln" x1="41.3" y1="1584" x2="321.7" y2="1584"/>
<line class="ln" x1="41.3" y1="1584" x2="41.3" y2="1631.4"/>
<line class="ln" x1="123.3" y1="1584" x2="123.3" y2="1631.4"/>
<line class="ln" x1="260.3" y1="1584" x2="260.3" y2="1631.4"/>
<line class="ln" x1="321.7" y1="1584" x2="321.7" y2="1631.8"/>
<line class="ln" x1="137" y1="1647" x2="191.1" y2="1647"/>
<line class="ln" x1="171.3" y1="1647" x2="171.3" y2="1706.7"/>
<line class="ln" x1="121.7" y1="1706.7" x2="219" y2="1706.7"/>
<line class="ln" x1="121.7" y1="1706.7" x2="121.7" y2="1754.3"/>
<line class="ln" x1="219" y1="1706.7" x2="219" y2="1754.3"/>
<line class="arrow" x1="81.7" y1="1683.3" x2="99" y2="1669.3"/>
</g>
<text class="t" x="157.3" y="1489.3" font-size="11">Case 4 (P10)</text>
<g id="d-I-1"><rect class="sym" x="55.7" y="1484" width="34.6" height="34.6"/><text class="t" x="70" y="1535" font-size="11">I-1</text><text class="t" x="70" y="1548.2" font-size="11">65 y</text></g>
<g id="d-I-2"><circle class="sym" cx="240.8" cy="1501.3" r="17.5"/><text class="t" x="240" y="1535" font-size="11">I-2</text><text class="t" x="240" y="1548.2" font-size="11">63 y</text></g>
<g id="d-II-1"><rect class="sym" x="20.7" y="1631.4" width="34.6" height="34.6"/><text class="t" x="34.3" y="1679.3" font-size="11">II-1</text><text class="t" x="34.3" y="1691.7" font-size="11">41 y</text></g>
<g id="d-II-2"><rect class="aff" x="102.3" y="1631.4" width="34.7" height="34.6"/><text class="t" x="117.3" y="1679.3" font-size="11">II-2</text><text class="t" x="117.3" y="1691.7" font-size="11">40 y</text></g>
<g id="d-II-3"><circle class="sym" cx="208.5" cy="1648.5" r="17.5"/><text class="t" x="210.7" y="1679.3" font-size="11">II-3</text><text class="t" x="208.3" y="1691.7" font-size="11">36 y</text></g>
<g id="d-II-4"><rect class="sym" x="239.3" y="1631.4" width="35" height="34.6"/><text class="t" x="258.7" y="1679.3" font-size="11">II-4</text><text class="t" x="260" y="1691.7" font-size="11">36 y</text></g>
<g id="d-II-5"><circle class="sym" cx="318" cy="1648.9" r="17.3"/><text class="t" x="318.3" y="1679.3" font-size="11">II-5</text><text class="t" x="320" y="1691.7" font-size="11">34 y</text></g>
<g id="d-III-1"><rect class="sym" x="102.3" y="1754.3" width="35" height="34.7"/><text class="t" x="119" y="1804" font-size="11">III-1</text><text class="t" x="119" y="1816.7" font-size="11">20 y</text></g>
<g id="d-III-2"><rect class="sym" x="205" y="1754.3" width="34.7" height="34.7"/><text class="t" x="222.7" y="1804" font-size="11">III-2</text><text class="t" x="221.3" y="1816.7" font-size="11">18 y</text></g>

<g id="chart-d1">
<rect class="mg" x="411.7" y="1468" width="7.3" height="128.4"/>
<rect class="mg" x="421" y="1468" width="2.3" height="128.4"/>
<path class="ax" d="M380,1468 H553.3 M380,1468 V1597.2 M459.3,1468 v-3 M542.7,1468 v-3"/>
<line x1="378.8" y1="1596.85" x2="378.8" y2="1468" stroke="#555" stroke-width="2.4" stroke-dasharray="0.9 3.46"/>
<line x1="378" y1="1596.85" x2="378" y2="1468" stroke="#555" stroke-width="4" stroke-dasharray="0.9 16.54"/>
<g class="yl" font-size="10"><text x="373" y="1599.7">0</text><text x="373" y="1582.3">600</text><text x="373" y="1564.8">1200</text><text x="373" y="1547.4">1800</text><text x="373" y="1529.9">2400</text><text x="373" y="1512.5">3000</text><text x="373" y="1495.1">3600</text><text x="373" y="1477.6">4200</text></g>
<text class="t" x="382.3" y="1460.7" font-size="10">0</text><text class="t" x="542.7" y="1460.7" font-size="10">110</text>
<path class="tr" d="M380,1570 L381.5,1592 L383.3,1576 L384.5,1593 L386,1585 L387,1590 L388.3,1544 L389.5,1588 L391,1585 L392,1590 L393.3,1573 L394.5,1592 L396,1590 L397,1582 L398.5,1592 L400,1579 L401.5,1592 L403,1585 L405,1553 L406.5,1592 L408,1582 L409.5,1593 L410.5,1560 L411.5,1532 L413,1536 L414.5,1532 L416,1560 L417.7,1515 L419,1576 L420.5,1590 L422,1594 L424,1585 L425,1594 L427,1586 L428.5,1594 L430,1591 L431.5,1594 L433,1588 L434.5,1594 L437,1594 L439,1590 L441,1544 L442.5,1594 L444,1586 L445,1576 L446.5,1594 L448,1590 L450,1595 L452,1585 L453.5,1594 L455,1579 L456.5,1594 L458,1593 L460,1595 L462,1594 L463.5,1590 L464.7,1469 L466,1469 L467,1544 L468.5,1560 L470,1561 L471.5,1592 L473,1573 L474.5,1593 L476,1576 L477.5,1593 L479,1576 L480.5,1593 L482,1576 L483.5,1593 L485,1576 L486.5,1593 L488,1576 L489,1593 L490,1570 L491.5,1593 L493,1578 L494.5,1593 L496,1580 L497,1593 L498.3,1573 L499.5,1593 L501,1588 L503,1594 L505,1591 L507,1595 L510,1594 L513,1596 L517,1593 L519,1588 L521,1595 L525,1596 L530,1595 L535,1596 L540,1595 L545,1596 L553,1596"/>
<path class="red" d="M450.8,1596.4 L453.3,1593.2 L455.8,1596.4 Z"/>
<text class="t" x="521.7" y="1517.9" font-size="11.3">I-1</text><text class="t" x="521.7" y="1537.5" font-size="11.3">Proband father</text>
</g>

<g id="chart-d2">
<rect class="mg" x="415.7" y="1734.3" width="3.6" height="124.7"/>
<path class="ax" d="M380,1734.3 H578.3 M380,1734.3 V1859.8 M464.3,1734.3 v-3 M550.7,1734.3 v-3"/>
<line x1="378.8" y1="1859.45" x2="378.8" y2="1734.3" stroke="#555" stroke-width="2.4" stroke-dasharray="0.9 3.09"/>
<line x1="378" y1="1859.45" x2="378" y2="1734.3" stroke="#555" stroke-width="4" stroke-dasharray="0.9 15.06"/>
<g class="yl" font-size="10"><text x="376" y="1862.3">0</text><text x="376" y="1846.3">800</text><text x="376" y="1830.4">1600</text><text x="376" y="1814.4">2400</text><text x="376" y="1798.5">3200</text><text x="376" y="1782.5">4000</text><text x="376" y="1766.5">4800</text><text x="376" y="1750.6">5600</text></g>
<text class="t" x="380" y="1725" font-size="10">0</text><text class="t" x="550.7" y="1725" font-size="10">100</text>
<path class="tr" d="M380,1855 L382,1857 L383.5,1853 L385,1853 L386.5,1857 L388,1850 L390,1831 L391.5,1850 L393,1845 L395,1839 L396.5,1852 L398,1847 L399.5,1855 L401,1843 L402.5,1855 L403.5,1849 L405,1856 L406,1849 L407.5,1856 L408.5,1853 L410,1857 L412,1856 L414,1857 L415,1800 L416,1743 L417.5,1747 L418.5,1743 L419.5,1800 L421,1856 L423,1857 L425,1850 L426,1847 L427,1857 L429,1853 L430.5,1857 L433,1853 L435.7,1839 L437,1857 L439,1855 L441,1858 L443,1857 L445,1853 L447,1858 L449,1850 L450.7,1843 L452,1858 L453.5,1851 L455,1858 L457,1855 L459,1858 L461,1856 L463,1853 L465,1858 L467,1856 L469,1857 L471,1855 L474,1858 L477,1856 L479,1850 L480.7,1843 L481.5,1735 L482.5,1735 L483.5,1825 L485,1857 L486.7,1819 L488,1857 L489.5,1850 L490.7,1839 L492,1857 L493.5,1850 L495,1845 L496.5,1857 L498,1848 L499.5,1857 L501,1847 L502.5,1857 L504,1848 L505.5,1857 L507,1848 L508.5,1857 L510,1848 L511.5,1857 L513,1848 L514.5,1857 L516,1848 L517.5,1857 L519,1848 L520.5,1857 L522,1847 L523.5,1857 L525,1847 L526.5,1857 L528,1847 L529.5,1857 L531,1847 L532.5,1857 L534,1846 L535.5,1857 L537,1846 L538.5,1857 L540,1846 L541.5,1857 L543,1845 L544.5,1857 L546,1845 L547.5,1857 L549,1843 L550.5,1857 L552,1843 L553.5,1857 L555.3,1837 L557,1857 L558,1840 L559.3,1815 L560.5,1850 L562,1852 L563.5,1857 L565,1841 L566.5,1857 L568,1855 L570,1851 L571.5,1857 L573,1855 L575,1853 L576.5,1857 L578,1856"/>
<path class="red" d="M462.5,1859 L465,1855.8 L467.5,1859 Z"/>
<text class="t" x="528.3" y="1791.7" font-size="11.3">II-2</text><text class="t" x="528.3" y="1811.7" font-size="11.3">Patient</text>
</g>
<text class="pl" x="321.7" y="1906">( d )</text>
</g>

<!-- ===================== PANEL E ===================== -->
<g id="panel-e">
<g id="e-connectors">
<line class="ln" x1="118.3" y1="2075.3" x2="223.3" y2="2075.3"/>
<line class="ln" x1="170.7" y1="2075.3" x2="170.7" y2="2142.7"/>
<line class="ln" x1="31.3" y1="2142.7" x2="278.3" y2="2142.7"/>
<line class="ln" x1="31.3" y1="2142.7" x2="31.3" y2="2180"/>
<line class="ln" x1="79" y1="2142.7" x2="79" y2="2180"/>
<line class="ln" x1="134.7" y1="2142.7" x2="134.7" y2="2180"/>
<line class="ln" x1="183.3" y1="2142.7" x2="183.3" y2="2180"/>
<line class="ln" x1="226.7" y1="2142.7" x2="226.7" y2="2180"/>
<line class="ln" x1="278.3" y1="2142.7" x2="278.3" y2="2179"/>
<line class="ln" x1="292" y1="2191.7" x2="334.3" y2="2191.7"/>
<line class="arrow" x1="248.3" y1="2230" x2="258.3" y2="2215"/>
</g>
<text class="t" x="176.7" y="2070.7" font-size="9.5">Case 5 (P13)</text>
<g id="e-I-1"><rect class="sym" x="90.7" y="2061" width="27.6" height="27.3"/><circle class="dot" cx="99.3" cy="2075" r="4.3"/><text class="t" x="105" y="2100.7" font-size="9.5">I-1</text><text class="t" x="105" y="2112.7" font-size="9.5">80 y</text></g>
<g id="e-I-2"><circle class="sym" cx="237.5" cy="2074.7" r="14.2"/><text class="t" x="240" y="2100.7" font-size="9.5">I-2</text><text class="t" x="241.7" y="2111" font-size="9.5">75 y</text></g>
<g id="e-II-1"><rect class="sym" x="20.7" y="2180" width="27.3" height="27.3"/><text class="t" x="32.7" y="2216" font-size="9.5">II-1</text><text class="t" x="33.3" y="2226" font-size="9.5">58 y</text></g>
<g id="e-II-2"><circle class="sym" cx="77.8" cy="2193.7" r="13.8"/><text class="t" x="79" y="2217.3" font-size="9.5">II-2</text><text class="t" x="77.7" y="2227.7" font-size="9.5">55 y</text></g>
<g id="e-II-3"><rect class="sym" x="118" y="2180" width="27.7" height="27.3"/><text class="t" x="131.7" y="2218.3" font-size="9.5">II-3</text><text class="t" x="129.3" y="2229" font-size="9.5">52 y</text></g>
<g id="e-II-4"><circle class="sym" cx="180.7" cy="2193.7" r="14"/><text class="t" x="177.7" y="2216" font-size="9.5">II-4</text><text class="t" x="179" y="2226.7" font-size="9.5">49 y</text></g>
<g id="e-II-5"><circle class="sym" cx="224.2" cy="2193.7" r="13.8"/><text class="t" x="221" y="2216" font-size="9.5">II-5</text><text class="t" x="222.7" y="2226.7" font-size="9.5">45 y</text></g>
<g id="e-II-6"><rect class="aff" x="258.7" y="2179" width="33.3" height="28.3"/><text class="t" x="276" y="2217.3" font-size="9.5">II-6</text><text class="t" x="278.3" y="2228.3" font-size="9.5">36 y</text></g>
<g id="e-II-7"><circle class="sym" cx="348.3" cy="2193" r="14"/><text class="t" x="351.7" y="2216" font-size="9.5">II-7</text><text class="t" x="353.3" y="2226.7" font-size="9.5">34 y</text></g>

<g id="chart-e1">
<rect class="mg" x="440" y="1950" width="4" height="103.3"/>
<rect class="mg" x="449.3" y="1950" width="1.5" height="103.3"/>
<rect class="mg" x="451.6" y="1950" width="1.5" height="103.3"/>
<path class="ax" d="M406,1950 H565 M406,1950 V2054.1 M492.3,1950 v-3"/>
<line x1="404.8" y1="2053.75" x2="404.8" y2="1950" stroke="#555" stroke-width="2.4" stroke-dasharray="0.9 2.71"/>
<line x1="404" y1="2053.75" x2="404" y2="1950" stroke="#555" stroke-width="4" stroke-dasharray="0.9 13.53"/>
<g class="yl" font-size="7.8"><text x="401" y="2055.9">0</text><text x="401" y="2041.5">800</text><text x="401" y="2027">1600</text><text x="401" y="2012.6">2400</text><text x="401" y="1998.2">2200</text><text x="401" y="1983.8">4000</text><text x="401" y="1969.3">4800</text><text x="401" y="1954.9">5000</text></g>
<text class="t" x="406" y="1944" font-size="8">0</text>
<path class="tr" d="M406,2038 L407.5,2051 L409,2042 L410.5,2052 L412,2046 L413.5,2050 L415,2026 L416.5,2050 L418,2044 L419.5,2052 L420.5,2039 L422,2052 L423.5,2044 L425,2050 L426.5,2042 L428,2052 L430,2046 L431,2040 L432.7,2028 L434,2052 L435.5,2044 L437,2050 L438,2010 L439.3,2007 L441,2007 L443.3,2007 L444.5,2030 L445.5,2008 L446.7,2000 L448,2045 L449.5,2050 L451,2046 L452.5,2052 L455,2044 L456.5,2052 L459,2050 L461,2052 L464,2048 L466,2052 L468,2049 L470,2044 L471,2020 L472.3,2016 L473.5,2045 L475,2040 L476.5,2052 L478,2042 L479.5,2052 L481,2048 L482.5,2052 L484,2045 L485.5,2052 L487,2048 L488.5,2052 L490,2051 L493,2053 L495,2048 L497,2010 L498.3,1951 L499.5,2016 L500.5,2045 L502,2052 L503.5,2044 L505,2052 L507,2044 L508.5,2052 L510,2044 L511.5,2052 L513,2044 L514.5,2052 L516,2044 L517.5,2052 L519,2044 L520.5,2052 L522,2044 L523.5,2052 L525,2044 L526.5,2052 L528,2043 L529.5,2052 L531,2040 L532.5,2040 L534,2052 L537,2050 L540,2052 L545,2051 L550,2052 L555,2050 L557,2052 L562,2052 L565,2052"/>
<path class="red" d="M484,2053.3 L486.5,2050.1 L489,2053.3 Z"/>
<text class="t" x="536" y="1996.7" font-size="9.8">I-2</text><text class="t" x="537.3" y="2013.3" font-size="9.8">Proband mother</text>
</g>

<g id="chart-e2">
<rect class="mg" x="435" y="2081" width="4" height="108"/>
<rect class="mg" x="445" y="2081" width="2" height="108"/>
<path class="ax" d="M406,2081 H574 M406,2081 V2189.8 M482.7,2081 v-3 M561,2081 v-3"/>
<line x1="404.8" y1="2189.45" x2="404.8" y2="2081" stroke="#555" stroke-width="2.4" stroke-dasharray="0.9 3.39"/>
<line x1="404" y1="2189.45" x2="404" y2="2081" stroke="#555" stroke-width="4" stroke-dasharray="0.9 16.27"/>
<g class="yl" font-size="7.8"><text x="401" y="2191.6">0</text><text x="401" y="2174.4">200</text><text x="401" y="2157.3">400</text><text x="401" y="2140.1">600</text><text x="401" y="2122.9">800</text><text x="401" y="2105.8">1000</text><text x="401" y="2088.6">1200</text></g>
<text class="t" x="406" y="2075.7" font-size="8">0</text><text class="t" x="561" y="2075.7" font-size="8">110</text>
<path class="tr" d="M406,2120 L407,2180 L408.3,2129 L409.5,2182 L410.5,2172 L411.5,2184 L413.3,2095 L414.5,2155 L415.5,2140 L416.3,2133 L417.3,2116 L418.5,2175 L419.5,2172 L421,2146 L422.5,2180 L424,2160 L425,2125 L426.5,2176 L428,2172 L429.3,2082 L430.5,2175 L432,2180 L433.5,2120 L434.5,2082 L436,2082 L437,2140 L438,2082 L440,2082 L441.7,2082 L442.5,2155 L443.5,2163 L445,2180 L446.5,2155 L448,2182 L449.5,2172 L451,2184 L452.5,2163 L454,2184 L455.5,2172 L457,2184 L458.5,2163 L460,2184 L462,2175 L463.3,2140 L464.3,2082 L465.5,2138 L467,2180 L468.5,2163 L470,2184 L472,2175 L474,2184 L475.5,2160 L477.3,2137 L478.5,2186 L480,2172 L481.5,2186 L483,2155 L484.5,2186 L486,2160 L487.3,2082 L489.3,2082 L490.5,2130 L492,2142 L493.5,2165 L495,2150 L496.5,2165 L498,2163 L499.5,2167 L501,2163 L502.5,2168 L504,2163 L505.5,2169 L507,2163 L508.5,2170 L510,2164 L511.5,2172 L513,2166 L514.5,2174 L516,2168 L517.5,2176 L519,2170 L520.5,2178 L522,2172 L523.5,2180 L525,2173 L526.5,2181 L528,2174 L529.5,2182 L531,2176 L532.5,2183 L534,2178 L536,2184 L538,2180 L540,2184 L542,2181 L544,2185 L546,2182 L548,2185 L550,2183 L552,2186 L554,2184 L556,2186 L558,2180 L559.5,2174 L561,2184 L564,2188 L567,2184 L570,2187 L574,2185"/>
<path class="red" d="M473.5,2189 L476,2185.5 L478.5,2189 Z"/>
<text class="t" x="535" y="2129.3" font-size="9.8">I-1</text><text class="t" x="536.7" y="2142.7" font-size="9.8">Proband father</text>
</g>

<g id="chart-e3">
<rect class="mg" x="435" y="2211.7" width="5.7" height="109.3"/>
<rect class="mg" x="443.3" y="2211.7" width="2.4" height="109.3"/>
<rect class="mg" x="483.3" y="2211.7" width="3.4" height="109.3"/>
<path class="ax" d="M406,2211.7 H577.3 M406,2211.7 V2321.8 M481,2211.7 v-3 M553.3,2211.7 v-3"/>
<line x1="404.8" y1="2321.45" x2="404.8" y2="2211.7" stroke="#555" stroke-width="2.4" stroke-dasharray="0.9 2.885"/>
<line x1="404" y1="2321.45" x2="404" y2="2211.7" stroke="#555" stroke-width="4" stroke-dasharray="0.9 14.24"/>
<g class="yl" font-size="7.8"><text x="401" y="2323.6">0</text><text x="401" y="2308.5">800</text><text x="401" y="2293.3">1600</text><text x="401" y="2278.2">2400</text><text x="401" y="2263">3200</text><text x="401" y="2247.9">4000</text><text x="401" y="2232.8">4800</text><text x="401" y="2217.6">5600</text></g>
<text class="t" x="406" y="2205.7" font-size="8">0</text><text class="t" x="553.3" y="2205.7" font-size="8">110</text>
<path class="tr" d="M406,2306 L407.5,2317 L409,2308 L410,2315 L411.7,2306 L413,2318 L414.5,2310 L415.5,2316 L416.5,2302 L418,2318 L419,2310 L420,2306 L421.5,2318 L423,2312 L424.5,2319 L426,2300 L427.3,2281 L428.5,2319 L430,2320 L432,2316 L433.3,2306 L434.5,2310 L436,2293 L437.5,2300 L438.5,2295 L440,2279 L441.5,2304 L443,2312 L445,2302 L446.5,2312 L448,2316 L449.5,2300 L451,2295 L452.5,2310 L453.5,2291 L455,2285 L456,2308 L457.3,2287 L458.5,2310 L460,2302 L461.5,2270 L462.7,2257 L464,2300 L465.5,2312 L467,2306 L468.5,2315 L470,2304 L471.5,2316 L472.8,2310 L474,2306 L475.5,2316 L477,2310 L479,2318 L480.5,2306 L481.7,2304 L483.3,2287 L484.5,2212 L485.7,2212 L486.5,2230 L488,2300 L489.3,2260 L490.5,2310 L492.7,2287 L494,2316 L496,2293 L497.5,2316 L499.3,2293 L500.5,2316 L502.3,2291 L503.5,2316 L505.5,2293 L507,2316 L509,2291 L510.5,2316 L511.7,2306 L513,2318 L515,2311 L516.5,2319 L518,2315 L519.5,2319 L521,2317 L523,2320 L526,2318 L529,2320 L532,2318 L535,2320 L538,2318 L541,2320 L544,2318 L547,2320 L550,2318 L553,2320 L556,2318 L559,2320 L562,2318 L565,2320 L568,2318 L571,2320 L574,2318 L577,2320"/>
<text class="t" x="541.7" y="2261.7" font-size="9.8">II-6</text><text class="t" x="545" y="2277.3" font-size="9.8">Patient</text>
</g>
<text class="pl" x="323.3" y="2368">( e )</text>
</g>
</svg>
